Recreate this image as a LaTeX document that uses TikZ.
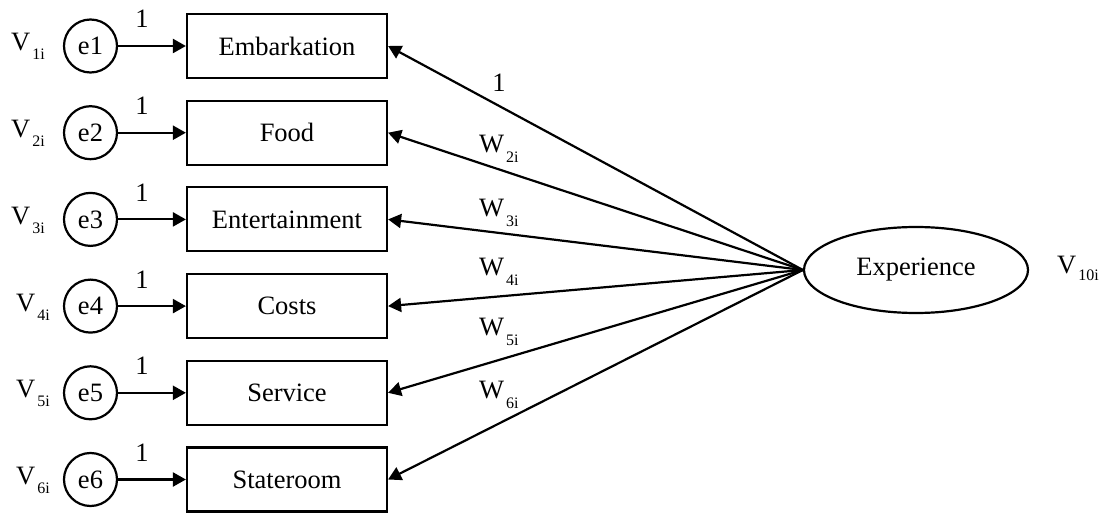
\documentclass[tikz,border=0pt]{standalone}
\usepackage{fontspec}
\setmainfont{Liberation Serif}
\usetikzlibrary{arrows.meta,shapes.geometric}
\newcommand\mainsz{\fontsize{26.5}{31}\selectfont}
\newcommand\subsz{\fontsize{16}{16}\selectfont}
\newcommand\sublab[3]{#1\kern2pt\raisebox{-#3pt}{\subsz #2}}
\tikzset{
  stepbox/.style={draw, line width=2.2pt, minimum width=200pt, minimum height=64pt, inner sep=0pt, font=\mainsz},
  errnode/.style={draw, circle, line width=2.2pt, minimum size=53pt, inner sep=0pt, font=\mainsz},
  latnode/.style={draw, ellipse, line width=2.2pt, minimum width=224pt, minimum height=86pt, inner sep=0pt, font=\mainsz},
  arr/.style={line width=2.2pt, -{Triangle[length=13pt,width=14pt]}},
  lab/.style={inner sep=0pt, font=\mainsz, anchor=base west},
}
\begin{document}
\begin{tikzpicture}[x=1pt,y=-1pt]
\useasboundingbox (0,0) rectangle (1106,513);
% latent
\node[latnode] (exp) at (916,270) {Experience};
\node[lab] (v10) at (1057,273) {\sublab{V}{10i}{7}};
% rows
\foreach \i/\y/\t/\vx in {1/46/Embarkation/11,2/132.7/Food/11,3/219.4/Entertainment/11,4/306.1/Costs/16,5/392.8/Service/16,6/479.5/Stateroom/16}{
  \node[stepbox] (b\i) at (287,\y) {\t};
  \node[errnode] (e\i) at (90.5,\y) {e\i};
  \node[lab] (v\i) at (\vx,\y+5) {\sublab{V}{\i i}{9}};
  \node[lab, anchor=base] (o\i) at (142,\y-18) {1};
  \draw[arr] (e\i) -- (b\i);
  \draw[arr] (exp.west) -- (b\i.east);
}
\node[lab, anchor=base] (w1) at (499,92) {1};
\foreach \i/\wy in {2/153,3/217,4/276,5/335,6/398}{
  \node[lab] (w\i) at (479,\wy) {\sublab{W}{\i i}{10}};
}
\end{tikzpicture}
\end{document}
